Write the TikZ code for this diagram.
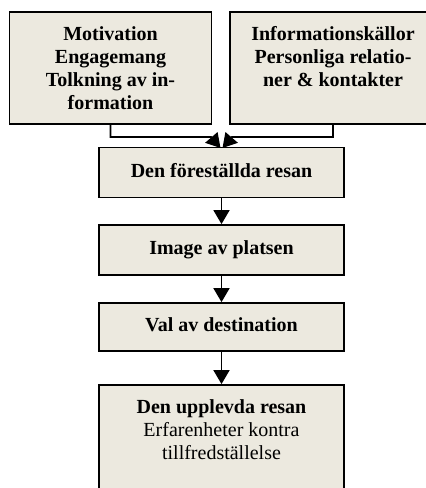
\documentclass[tikz,border=0pt]{standalone}
\usepackage{fontspec}
\setmainfont{Liberation Serif}
\usetikzlibrary{arrows.meta}
\definecolor{boxfill}{RGB}{236,233,223}
\begin{document}
\begin{tikzpicture}[x=1pt,y=-1pt,
  every node/.style={font=\fontsize{20}{23}\selectfont},
  box/.style={draw=black, line width=1.8pt, fill=boxfill, inner sep=0pt},
  topbox/.style={box, minimum width=202pt, minimum height=112pt, align=center, font=\fontsize{20}{23}\selectfont\bfseries},
  midbox/.style={box, minimum width=245pt, minimum height=50pt, text height=14pt, text depth=4.4pt, font=\fontsize{20}{23}\selectfont\bfseries},
  conn/.style={line width=1.8pt},
  arr/.style={conn, -{Triangle[length=14pt,width=16pt]}}]
\useasboundingbox (0,0) rectangle (426,488);
\clip (0,0) rectangle (426,488);

% two source boxes
\node[topbox] (motiv) at (110.5,68) {Motivation\\Engagemang\\Tolkning av in-\\formation};
\node[topbox, minimum width=206pt] (info) at (333,68) {Informationskällor\\Personliga relatio-\\ner \& kontakter\\\mbox{}};

% chain of stages
\node[midbox] (dfr) at (221.5,172.5) {Den föreställda resan};
\node[midbox] (img) at (221.5,250) {Image av platsen};
\node[midbox, minimum height=48pt] (val) at (221.5,327) {Val av destination};
\node[box, minimum width=245pt, minimum height=130pt] (exp) at (221.5,450) {};
\node[align=center, anchor=north, inner sep=0pt] (exptext) at (221.5,399)
  {\textbf{Den upplevda resan}\\Erfarenheter kontra\\tillfredställelse};

% joins of the two sources
\coordinate (jl) at (211,137);
\coordinate (jr) at (232,137);
\coordinate (tl) at (220.5,148);
\coordinate (tr) at (222.5,148);
\draw[arr] (motiv.south) |- (jl) -- (tl);
\draw[arr] (info.south) |- (jr) -- (tr);

% arrows down the chain
\draw[arr] (dfr.south) -- (img.north);
\draw[arr] (img.south) -- (val.north);
\draw[arr] (val.south) -- (exp.north);
\end{tikzpicture}
\end{document}
